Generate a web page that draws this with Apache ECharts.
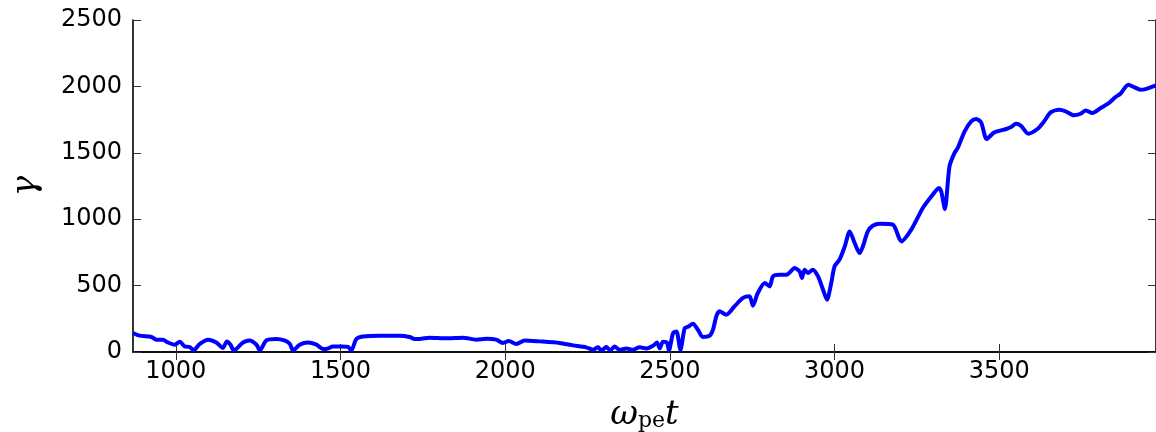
<!DOCTYPE html>
<html>
<head>
<meta charset="utf-8">
<script src="https://cdn.jsdelivr.net/npm/echarts@6/dist/echarts.min.js"></script>
<style>html,body{margin:0;padding:0;background:#fff}#c{width:1156px;height:432px}</style>
</head>
<body>
<div id="c"></div>
<script>
const timeValues = [870,890,926,941,961,976,997,1012,1027,1042,1054,1072,1098,1123,1143,1155,1166,1176,1204,1224,1245,1255,1275,1305,1330,1346,1356,1376,1401,1427,1447,1457,1477,1503,1523,1533,1548,1568,1619,1680,1710,1725,1740,1770,1821,1872,1912,1943,1973,1993,2011,2034,2059,2105,2165,2206,2246,2266,2282,2292,2307,2319,2332,2347,2368,2388,2408,2429,2449,2461,2469,2479,2491,2497,2510,2520,2532,2545,2555,2570,2585,2600,2621,2631,2641,2651,2671,2696,2722,2742,2752,2767,2788,2803,2813,2833,2854,2879,2894,2901,2909,2919,2934,2950,2965,2977,2990,3000,3015,3031,3046,3061,3076,3086,3101,3116,3137,3177,3203,3233,3268,3298,3317,3324,3335,3349,3364,3374,3395,3415,3430,3445,3462,3485,3521,3536,3551,3566,3588,3616,3636,3656,3682,3702,3727,3747,3763,3783,3808,3833,3853,3868,3892,3909,3929,3944,3976];
const gammaValues = [143,123,113,93,93,72,55,78,42,38,12,60,93,72,30,80,55,12,72,87,55,12,87,98,87,62,12,55,72,55,23,23,42,42,38,12,98,117,123,123,113,98,98,108,103,108,93,100,93,68,83,60,87,80,68,50,35,17,35,12,38,12,42,17,27,17,35,27,47,72,27,78,72,12,143,155,17,180,190,213,168,113,123,168,268,306,281,343,407,419,349,444,520,494,569,582,582,632,607,557,620,595,620,569,469,394,520,645,695,795,908,821,745,795,908,951,966,959,833,921,1084,1184,1235,1209,1077,1398,1498,1536,1661,1736,1754,1729,1604,1654,1679,1694,1719,1704,1644,1679,1736,1804,1824,1812,1782,1794,1819,1799,1837,1875,1920,1945,2013,1995,1975,1980,2008];
const xTicks = [1000,1500,2000,2500,3000,3500];
const yTicks = [0,500,1000,1500,2000,2500];

const chart = echarts.init(document.getElementById('c'), null, {renderer:'canvas'});
const axisLine = {show:true, lineStyle:{color:'#000', width:1.6}};
const tickStyle = {show:true, inside:true, length:8, lineStyle:{color:'#333', width:1}};
const labelFont = {fontFamily:'DejaVu Sans', fontSize:24, color:'#000', formatter:(v)=>String(v)};
chart.setOption({
  animation:false,
  grid:{left:133, right:0, top:20, bottom:80, containLabel:false, outerBoundsMode:'none'},
  xAxis:[{
    type:'value', min:870, max:3976, position:'bottom',
    axisLine:axisLine,
    axisTick:Object.assign({customValues:xTicks}, tickStyle),
    axisLabel:Object.assign({customValues:xTicks, margin:8}, labelFont),
    splitLine:{show:false},
    name:'{w|ω}{s|pe}{t|t}', nameLocation:'middle', nameGap:42,
    nameTextStyle:{rich:{
      w:{fontFamily:'DejaVu Serif', fontStyle:'italic', fontSize:34, color:'#000', verticalAlign:'bottom', lineHeight:38},
      s:{fontFamily:'DejaVu Serif', fontSize:22, color:'#000', verticalAlign:'bottom', lineHeight:29},
      t:{fontFamily:'DejaVu Serif', fontStyle:'italic', fontSize:34, color:'#000', verticalAlign:'bottom', lineHeight:38}
    }}
  },{
    type:'value', min:870, max:3976, position:'top',
    axisLine:axisLine,
    axisTick:Object.assign({customValues:xTicks}, tickStyle),
    axisLabel:{show:false}, splitLine:{show:false}
  }],
  yAxis:[{
    type:'value', min:0, max:2500, interval:500, position:'left',
    axisLine:axisLine, axisTick:tickStyle,
    axisLabel:Object.assign({margin:11}, labelFont),
    splitLine:{show:false},
    name:'γ', nameLocation:'middle', nameGap:90, nameRotate:90,
    nameTextStyle:{fontFamily:'DejaVu Serif', fontStyle:'italic', fontSize:34, color:'#000'}
  },{
    type:'value', min:0, max:2500, interval:500, position:'right',
    axisLine:axisLine, axisTick:tickStyle,
    axisLabel:{show:false}, splitLine:{show:false}
  }],
  series:[{
    type:'line', xAxisIndex:0, yAxisIndex:0,
    data:timeValues.map((t,i)=>[t,gammaValues[i]]),
    showSymbol:false, smooth:0.25,
    lineStyle:{color:'#0000ff', width:4}, clip:true
  }]
});
</script>
</body>
</html>
